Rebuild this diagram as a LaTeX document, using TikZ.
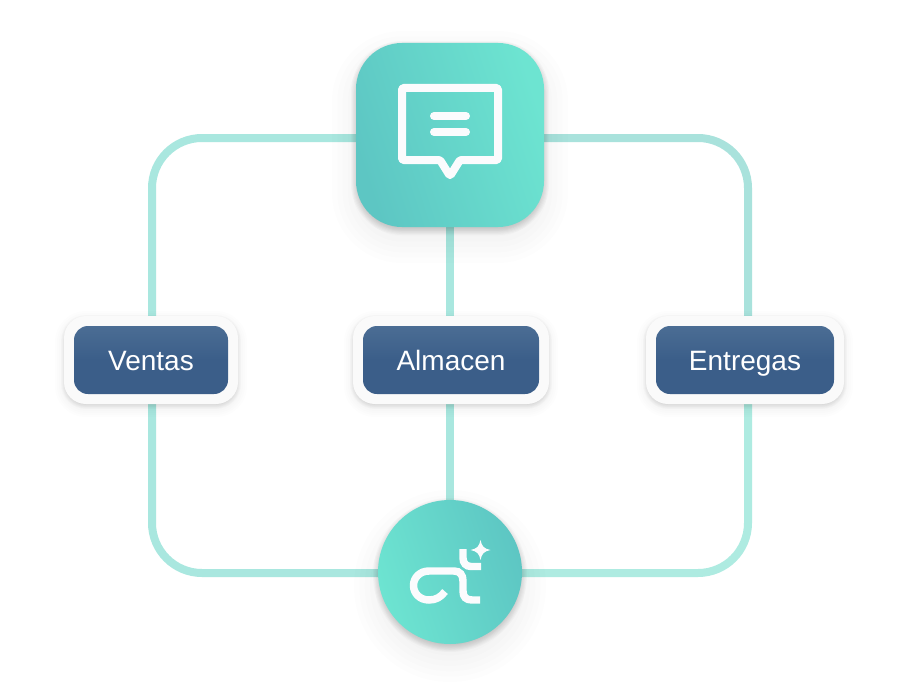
\documentclass[tikz,border=0pt]{standalone}
\usepackage{fontspec}
\setmainfont{Liberation Sans}
\pgfdeclarelayer{linklayer}
\pgfsetlayers{linklayer,main}
\definecolor{linkc}{HTML}{A9E7DF}
\definecolor{linkd}{HTML}{A9E2DC}
\definecolor{linke}{HTML}{AEEBE1}
\definecolor{tealA}{HTML}{5DC6C3}
\definecolor{tealB}{HTML}{6DE4D1}
\definecolor{pillTop}{HTML}{4B6D94}
\definecolor{pillBot}{HTML}{3B5E89}
\definecolor{halo}{HTML}{FAFAFA}
\definecolor{iconw}{HTML}{FBFBFD}
\tikzset{
  x=0.75pt,y=-0.75pt,
  link/.style={draw=linkc,line width=6pt,rounded corners=37.5pt},
  linkstraight/.style={draw=linkc,line width=6pt},
  halobox/.style={fill=halo,rounded corners=16.5pt,inner sep=0pt,outer sep=0pt,minimum height=66pt},
  pill/.style={rounded corners=10.5pt,top color=pillTop,bottom color=pillBot,middle color=pillBot,inner sep=0pt,outer sep=0pt,minimum height=51pt,text=white,text height=19pt,text depth=4pt,font=\fontsize{21}{25}\selectfont},
  hub/.style={inner sep=0pt,outer sep=0pt,bottom color=tealA,top color=tealB,middle color=tealA!50!tealB},
  hubflip/.style={inner sep=0pt,outer sep=0pt,bottom color=tealB,top color=tealA,middle color=tealA!50!tealB},
  iconline/.style={draw=iconw,line width=6pt,line join=round,line cap=round},
  logoline/.style={draw=iconw,line width=5.6pt},
  softshadow/.style={black,opacity=#1}
}
% x1 y1 x2 y2 radius(px) yoffset(px) spread(px) opacity
\newcommand{\softbox}[8]{%
  \foreach \k in {0,...,9}{%
    \pgfmathsetmacro{\gr}{#7*(\k/4.5-1)}%
    \pgfmathsetmacro{\rr}{max(1,#5+\gr)*0.75}%
    \fill[softshadow=#8,rounded corners=\rr pt] (#1-\gr,#2-\gr+#6) rectangle (#3+\gr,#4+\gr+#6);
  }%
}
% cx cy radius yoffset spread opacity
\newcommand{\softdisc}[6]{%
  \foreach \k in {0,...,9}{%
    \pgfmathsetmacro{\gr}{#3+#5*(\k/4.5-1)}%
    \fill[softshadow=#6] (#1,#2+#4) circle[radius=\gr*0.75pt];
  }%
}
\begin{document}
\begin{tikzpicture}
\useasboundingbox (0,0) rectangle (921,692);

% shadows
\softbox{356}{43}{544}{227}{46}{12}{24}{0.006}
\softbox{356}{43}{544}{227}{46}{3}{5}{0.022}
\softdisc{450}{572}{72}{14}{24}{0.006}
\softdisc{450}{572}{72}{3}{5}{0.022}
\softbox{64}{316}{238}{404}{22}{4}{9}{0.006}
\softbox{353}{316}{549}{404}{22}{4}{9}{0.006}
\softbox{646}{316}{844}{404}{22}{4}{9}{0.006}
\softbox{64}{316}{238}{404}{22}{2}{3}{0.012}
\softbox{353}{316}{549}{404}{22}{2}{3}{0.012}
\softbox{646}{316}{844}{404}{22}{2}{3}{0.012}

% hubs
\node[hub,rounded corners=34.5pt,minimum width=141pt,minimum height=138pt,shading angle=-72] (top) at (450,135) {};
\node[hubflip,circle,minimum size=108pt,shading angle=-72] (bottom) at (450,572) {};

% pills
\node[halobox,minimum width=130.5pt] (ventasH) at (151,360) {};
\node[halobox,minimum width=147pt] (almacenH) at (451,360) {};
\node[halobox,minimum width=148.5pt] (entregasH) at (745,360) {};
\node[pill,minimum width=115.5pt] (ventas) at (151,360) {Ventas};
\node[pill,minimum width=132pt] (almacen) at (451,360) {Almacen};
\node[pill,minimum width=133.5pt] (entregas) at (745,360) {Entregas};

% connector end points
\coordinate (topL) at (top.west |- 0,138);
\coordinate (topR) at (top.east |- 0,138);
\coordinate (botL) at (bottom.west |- 0,573);
\coordinate (botR) at (bottom.east |- 0,573);
\coordinate (ventasN) at (152,316);
\coordinate (ventasS) at (152,404);
\coordinate (entregasN) at (748,316);
\coordinate (entregasS) at (748,404);
\coordinate (topS) at (450,227);
\coordinate (almacenN) at (450,316);
\coordinate (almacenS) at (450,404);
\coordinate (botN) at (450,500);

\begin{pgfonlayer}{linklayer}
\fill[white] (0,0) rectangle (921,692);
\draw[link] (topL) -| (ventasN);
\draw[link,draw=linkd] (topR) -| (entregasN);
\draw[link] (botL) -| (ventasS);
\draw[link,draw=linke] (botR) -| (entregasS);
\draw[linkstraight] (topS) -- (almacenN);
\draw[linkstraight] (almacenS) -- (botN);
\end{pgfonlayer}

% chat icon
\draw[iconline,rounded corners=1pt] (402,88) -- (498,88) -- (498,160) -- (460,160) -- (450,176) -- (440,160) -- (402,160) -- cycle;
\draw[iconline] (434,116) -- (466,116);
\draw[iconline] (434,132) -- (466,132);

% logo
\draw[logoline] (445,591.5) .. controls (441,597) and (436,600) .. (429,600) .. controls (420,600) and (413.5,593.5) .. (413.5,585.5) .. controls (413.5,577.5) and (420,571) .. (429,571) -- (454,571) .. controls (460,571) and (463,575) .. (463,581) -- (463,591) .. controls (463,597) and (466,600) .. (472,600) -- (480,600);
\draw[logoline] (463,549) -- (463,558) .. controls (463,563) and (466,566.5) .. (471,566.5) -- (481,566.5);
\fill[iconw] (480.5,540) .. controls (481.8,546.5) and (484,548.7) .. (490.5,550) .. controls (484,551.3) and (481.8,553.5) .. (480.5,560) .. controls (479.2,553.5) and (477,551.3) .. (470.5,550) .. controls (477,548.7) and (479.2,546.5) .. (480.5,540) -- cycle;
\end{tikzpicture}
\end{document}
